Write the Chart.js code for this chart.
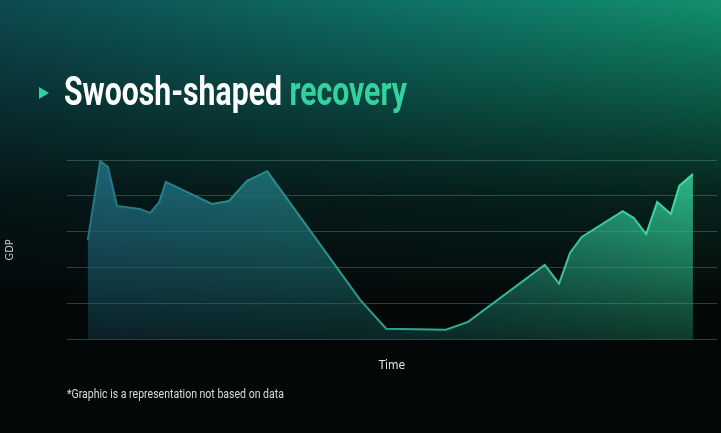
<!DOCTYPE html>
<html>
<head>
<meta charset="utf-8">
<script src="https://cdn.jsdelivr.net/npm/chart.js@4/dist/chart.umd.min.js"></script>
<style>
	html, body { margin:0; padding:0; }
	body {
		width:721px; height:433px; overflow:hidden; position:relative;
		background:
			linear-gradient(180deg, rgba(3,8,8,0) 0%, rgba(3,8,8,0.8) 45%, #030707 72%),
			linear-gradient(90deg, #0d4a50 0%, #0e6d64 50%, #12906f 100%);
		font-family: Roboto, "DejaVu Sans Condensed", sans-serif;
	}
	#wrap { position:absolute; left:0; top:0; width:721px; height:433px; }
	.squeeze { position:absolute; margin:0; white-space:nowrap; transform-origin:0 0; }
	.title {
		left:64px; top:67px; font-size:41px; line-height:48px;
		font-weight:bold; color:#ffffff;
	}
	.title .hl { color:#33d3a0; }
	.arrow {
		position:absolute; left:39px; top:86.5px; width:0; height:0;
		border-top:6px solid transparent; border-bottom:6px solid transparent;
		border-left:10px solid #2fd3a0;
	}
	.note {
		left:67px; top:385.5px; font-size:13px; line-height:16px; color:#d8dcdc;
	}
</style>
</head>
<body>
<div id="wrap"><canvas id="gdpChart" width="721" height="433"></canvas></div>
<div class="arrow"></div>
<h1 class="squeeze title" data-w="343">Swoosh-shaped <span class="hl">recovery</span></h1>
<div class="squeeze note" data-w="217">*Graphic is a representation not based on data</div>
<script>
// time (0-100) and GDP level (0-5)
var timeVals = [3.2, 5.1, 6.3, 7.7, 11.2, 12.8, 14.2, 15.2, 22.3, 24.9, 27.7, 30.8,
	45.1, 49.1, 58.3, 61.7, 73.5, 75.7, 77.4, 79.2, 85.5, 87.2, 89.1, 90.8, 92.9, 94.2, 96.3];
var gdpVals = [2.78, 4.97, 4.81, 3.72, 3.64, 3.53, 3.83, 4.39, 3.78, 3.86, 4.42, 4.69,
	1.11, 0.31, 0.28, 0.50, 2.08, 1.56, 2.42, 2.86, 3.58, 3.39, 2.94, 3.83, 3.50, 4.28, 4.61];
var gdpTicks = [0, 1, 2, 3, 4, 5];

// condensed look: squeeze the html text to the widths seen in the picture
var els = document.querySelectorAll('.squeeze');
for (var k = 0; k < els.length; k++) {
	var el = els[k], w = parseFloat(el.getAttribute('data-w'));
	el.style.transform = 'scaleX(' + (w / el.offsetWidth) + ')';
}

var points = [];
for (var i = 0; i < timeVals.length; i++) {
	points.push({x: timeVals[i], y: gdpVals[i]});
}

var fillCache = null;
var makeFill = function(chart){
	var area = chart.chartArea;
	if (!area) return 'rgba(30,120,110,0.5)';
	if (fillCache) return fillCache;
	// offscreen canvas: horizontal colour shift + vertical fade
	var off = document.createElement('canvas');
	off.width = chart.width; off.height = chart.height;
	var c = off.getContext('2d');
	var h = c.createLinearGradient(area.left, 0, area.right, 0);
	h.addColorStop(0, '#1e6277');
	h.addColorStop(0.45, '#1c7070');
	h.addColorStop(1, '#2ec48d');
	c.fillStyle = h;
	c.fillRect(0, 0, off.width, off.height);
	var v = c.createLinearGradient(0, area.top, 0, area.bottom);
	v.addColorStop(0, 'rgba(0,0,0,1)');
	v.addColorStop(1, 'rgba(0,0,0,0.28)');
	c.globalCompositeOperation = 'destination-in';
	c.fillStyle = v;
	c.fillRect(0, 0, off.width, off.height);
	fillCache = chart.ctx.createPattern(off, 'no-repeat');
	return fillCache;
};

var lineColor = function(ctx){
	var chart = ctx.chart, area = chart.chartArea;
	if (!area) return '#2a9a8a';
	var g = chart.ctx.createLinearGradient(area.left, 0, area.right, 0);
	g.addColorStop(0, '#247484');
	g.addColorStop(0.45, '#2a9a8a');
	g.addColorStop(1, '#45e0a2');
	return g;
};

new Chart(document.getElementById('gdpChart'), {
	type: 'line',
	data: {
		datasets: [{
			data: points,
			borderColor: lineColor,
			backgroundColor: function(ctx){ return makeFill(ctx.chart); },
			borderWidth: 2,
			pointRadius: 0,
			tension: 0,
			fill: 'start'
		}]
	},
	options: {
		responsive: false,
		animation: false,
		layout: { padding: { left: 3, right: 4, top: 160, bottom: 59.6 } },
		plugins: { legend: { display: false }, tooltip: { enabled: false } },
		scales: {
			x: {
				type: 'linear', min: 0, max: 100,
				grid: { display: false, drawTicks: false },
				border: { display: false },
				ticks: { display: false },
				title: {
					display: true, text: 'Time', color: '#e0e4e4',
					font: { family: '"DejaVu Sans Condensed", sans-serif', size: 12 },
					padding: { top: 19.2, bottom: 0 }
				}
			},
			y: {
				min: 0, max: 5,
				afterBuildTicks: function(scale){
					scale.ticks = gdpTicks.map(function(v){ return {value: v}; });
				},
				grid: { color: 'rgba(150,200,190,0.28)', lineWidth: 1, drawTicks: false },
				border: { display: false },
				ticks: { display: false },
				title: {
					display: true, text: 'GDP', color: '#c8cccc',
					font: { family: '"DejaVu Sans Condensed", sans-serif', size: 11 },
					padding: { top: 0.4, bottom: 50.4 }
				}
			}
		}
	}
});
</script>
</body>
</html>
